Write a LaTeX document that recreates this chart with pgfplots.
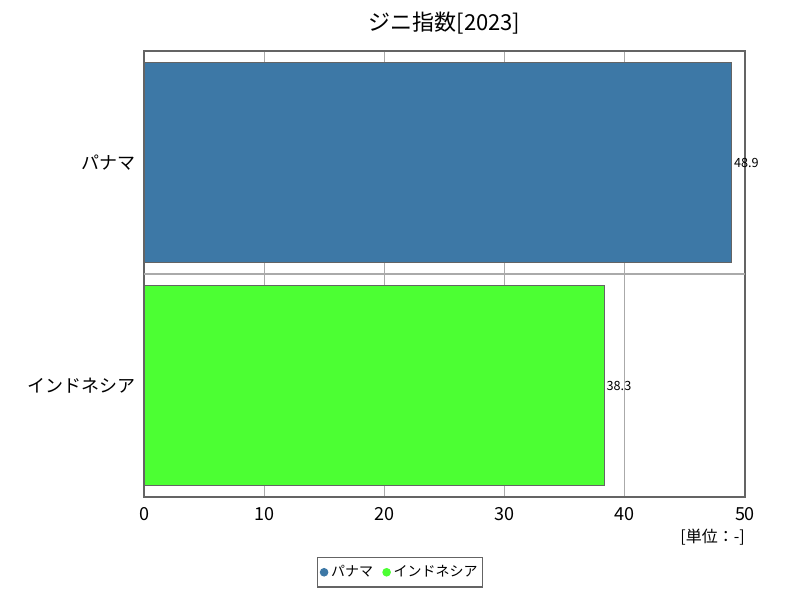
\documentclass[border=0pt]{standalone}
\usepackage{fontspec}
\setmainfont{Noto Sans CJK JP}
\usepackage{pgfplots}
\pgfplotsset{compat=1.18}

\definecolor{panama}{RGB}{61,120,166}
\definecolor{indo}{RGB}{76,255,51}
\definecolor{frame}{RGB}{100,100,100}
\definecolor{gridc}{RGB}{170,170,170}

\begin{document}
\begin{tikzpicture}[x=0.75pt,y=0.75pt]
\path[use as bounding box] (-144,-103) rectangle (656,497);
\begin{axis}[
  at={(0,0)}, anchor=south west,
  scale only axis, width=450.75pt, height=334.5pt,
  clip=false,
  xmin=0, xmax=50, ymin=-0.5, ymax=1.5,
  xtick={0,10,20,30,40,50},
  ytick={0,1}, yticklabels={インドネシア,パナマ},
  extra y ticks={0.5}, extra y tick labels={},
  extra y tick style={grid=major, major tick length=0pt},
  xmajorgrids,
  grid style={gridc, line width=0.9pt},
  axis line style={frame, line width=0.9pt},
  major tick length=0pt,
  tick label style={font=\fontsize{13.5}{15}\selectfont},
  xticklabel style={yshift=-4pt},
  yticklabel style={xshift=-3pt},
  /pgf/number format/assume math mode=true,
  xbar, bar shift=0pt, bar width=0.9,
  nodes near coords,
  nodes near coords style={font=\fontsize{9.5}{11}\selectfont, anchor=west, xshift=-2pt, /pgf/number format/fixed, /pgf/number format/precision=1},
  title={ジニ指数[2023]},
  title style={font=\fontsize{16.5}{19}\selectfont, at={(0.5,1)}, anchor=south, yshift=3pt},
  legend columns=2,
  legend style={at={(0.426,0)}, anchor=north, yshift=-45pt, draw=frame, line width=0.9pt,
    font=\fontsize{10.5}{12}\selectfont, inner xsep=2pt, inner ysep=4pt,
    /tikz/every even column/.append style={column sep=5pt}},
]
\addplot[fill=panama, draw=frame, line width=0.8pt,
  legend image code/.code={\fill[panama] (0.1cm,0) circle (2.8pt);}]
  coordinates {(48.9,1)};
\addlegendentry{パナマ}
\addplot[fill=indo, draw=frame, line width=0.8pt,
  legend image code/.code={\fill[indo] (0.1cm,0) circle (2.8pt);}]
  coordinates {(38.3,0)};
\addlegendentry{インドネシア}
\node[anchor=north east, font=\fontsize{12}{14}\selectfont, inner sep=0pt] at (rel axis cs:1,0) [yshift=-24pt] {[単位：-]};
\end{axis}
\end{tikzpicture}
\end{document}
